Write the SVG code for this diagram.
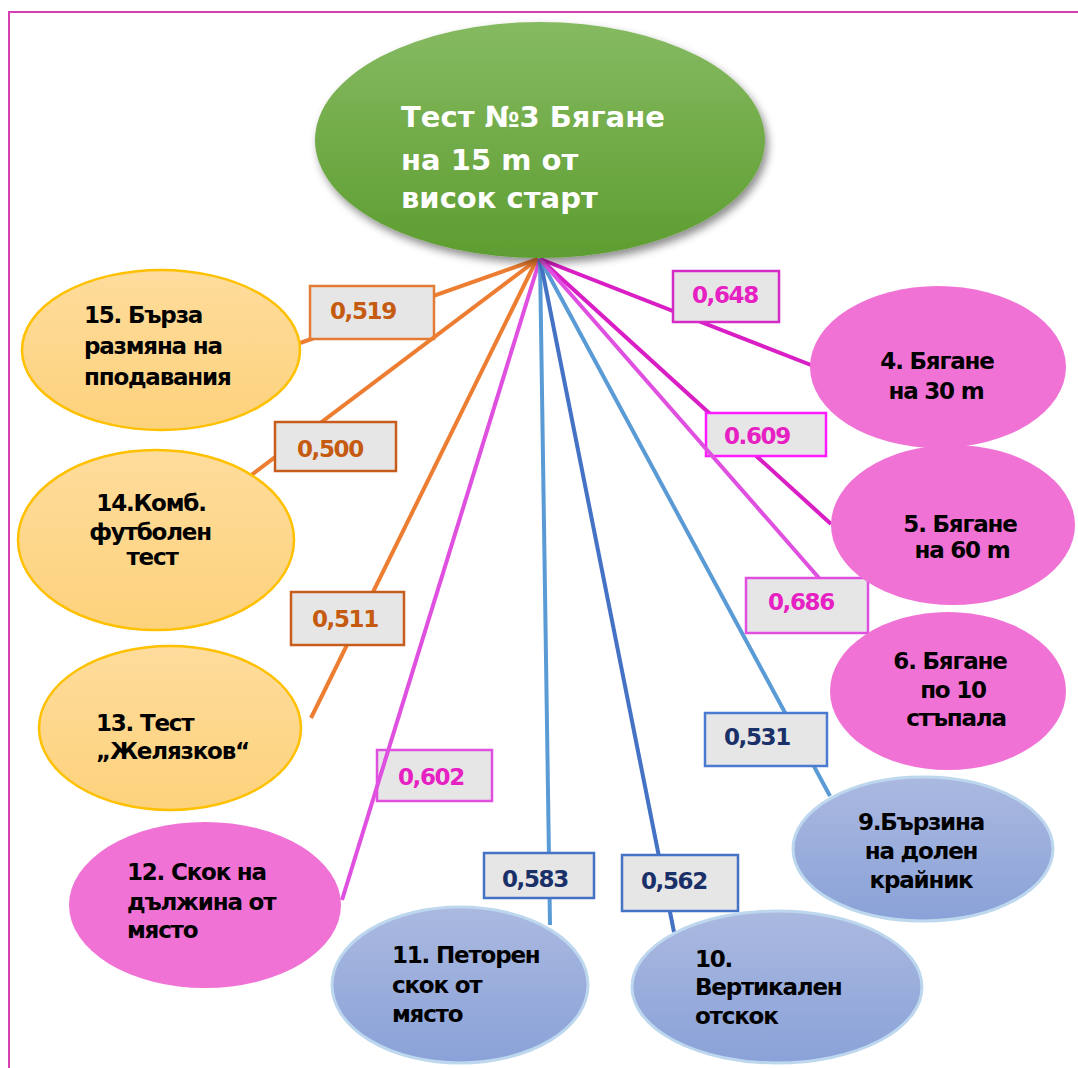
<svg xmlns="http://www.w3.org/2000/svg" width="1078" height="1068" viewBox="0 0 1078 1068">
<defs>
<linearGradient id="gGreen" x1="0" y1="0" x2="0" y2="1"><stop offset="0" stop-color="#86ba62"/><stop offset="1" stop-color="#5d9d30"/></linearGradient>
<linearGradient id="gYellow" x1="0" y1="0" x2="0" y2="1"><stop offset="0" stop-color="#fedc9c"/><stop offset="1" stop-color="#fdd27c"/></linearGradient>
<linearGradient id="gBlue" x1="0" y1="0" x2="0" y2="1"><stop offset="0" stop-color="#abb9e0"/><stop offset="1" stop-color="#8aa2d8"/></linearGradient>
<filter id="shadow" x="-10%" y="-10%" width="125%" height="130%"><feDropShadow dx="3" dy="5" stdDeviation="4" flood-color="#000" flood-opacity="0.45"/></filter>
<style>
.frame{fill:none;stroke:#d63fb2;stroke-width:2}
.ln{fill:none;stroke-width:4}
.or{stroke:#ed7d31}
.mg{stroke:#d81ec4}
.pk{stroke:#e050e0}
.lb{stroke:#5b9bd5}
.db{stroke:#4472c4}
.box{fill:#e7e6e6;stroke-width:2.5}
.lt{font-family:"DejaVu Sans",Verdana,sans-serif;font-weight:bold;font-size:23px;letter-spacing:-1.4px}
.to{fill:#c55a11}
.tm{fill:#e620c2}
.tb{fill:#1a3068}
.yel{fill:url(#gYellow);stroke:#ffc000;stroke-width:2.5}
.pnk{fill:#f072d5}
.blu{fill:url(#gBlue);stroke:#bdd7ee;stroke-width:3}
.nt{font-family:"DejaVu Sans",Verdana,sans-serif;font-weight:bold;font-size:23px;letter-spacing:-1.2px;fill:#000}
.title{font-family:"DejaVu Sans",Verdana,sans-serif;font-weight:bold;font-size:29px;fill:#fff}
</style>
</defs>
<rect width="1078" height="1068" fill="#fff"/>
<path class="frame" d="M9,1070 L9,12 L1080,12"/>
<g id="connectors">
<g id="e15"><line class="ln or" x1="538" y1="259" x2="300" y2="343"/><rect class="box" x="310" y="286" width="124" height="53" stroke="#e37b34"/><text class="lt to" x="330" y="319">0,519</text></g>
<g id="e14"><line class="ln or" x1="538" y1="259" x2="250" y2="476"/><rect class="box" x="275" y="422" width="121" height="49" stroke="#c65d1c"/><text class="lt to" x="297" y="457">0,500</text></g>
<g id="e13"><line class="ln or" x1="537" y1="259" x2="311" y2="718"/><rect class="box" x="291" y="592" width="113" height="53" stroke="#c65d1c"/><text class="lt to" x="312" y="627">0,511</text></g>
<g id="e12"><rect class="box" x="377" y="750" width="115" height="51" stroke="#e050e0"/><text class="lt tm" x="398" y="785">0,602</text><line class="ln pk" x1="540" y1="259" x2="342" y2="900"/></g>
<g id="e11"><line class="ln lb" x1="540" y1="259" x2="550" y2="925"/><rect class="box" x="484" y="853" width="110" height="45" stroke="#4472c4"/><text class="lt tb" x="502" y="887">0,583</text></g>
<g id="e10"><line class="ln db" x1="540" y1="259" x2="674" y2="932"/><rect class="box" x="622" y="855" width="116" height="56" stroke="#4472c4"/><text class="lt tb" x="641" y="889">0,562</text></g>
<g id="e9"><line class="ln lb" x1="540" y1="259" x2="830" y2="796"/><rect class="box" x="705" y="713" width="122" height="53" stroke="#4a7bd0"/><text class="lt tb" x="724" y="745">0,531</text></g>
<g id="e4"><line class="ln mg" x1="540" y1="259" x2="811" y2="365"/><rect class="box" x="673" y="271" width="106" height="51" stroke="#d42ac6"/><text class="lt tm" x="692" y="303">0,648</text></g>
<g id="e5"><line class="ln mg" x1="540" y1="259" x2="831" y2="524"/><rect class="box" x="706" y="413" width="120" height="43" stroke="#ff1aff"/><text class="lt tm" x="724" y="444">0.609</text></g>
<g id="e6"><line class="ln pk" x1="540" y1="259" x2="819" y2="578"/><rect class="box" x="746" y="578" width="122" height="55" stroke="#e050e0"/><text class="lt tm" x="768" y="610">0,686</text></g>
</g>
<g id="n3"><ellipse cx="540" cy="140" rx="225" ry="118" fill="url(#gGreen)" filter="url(#shadow)"/><text class="title" x="401" y="127">Тест №3 Бягане</text><text class="title" x="401" y="170">на 15 m от</text><text class="title" x="401" y="208">висок старт</text></g>
<g id="n15"><ellipse class="yel" cx="161" cy="350" rx="139" ry="80"/><text class="nt" x="84" y="323">15. Бърза</text><text class="nt" x="84" y="354">размяна на</text><text class="nt" x="84" y="385">пподавания</text></g>
<g id="n14"><ellipse class="yel" cx="156" cy="540" rx="138" ry="90"/><g text-anchor="middle"><text class="nt" x="151" y="511">14.Комб.</text><text class="nt" x="150" y="540">футболен</text><text class="nt" x="152" y="565">тест</text></g></g>
<g id="n13"><ellipse class="yel" cx="170" cy="728" rx="131" ry="82"/><text class="nt" x="96" y="731">13. Тест</text><text class="nt" x="96" y="759">„Желязков“</text></g>
<g id="n12"><ellipse class="pnk" cx="205" cy="905" rx="136" ry="83"/><text class="nt" x="127" y="880">12. Скок на</text><text class="nt" x="127" y="910">дължина от</text><text class="nt" x="127" y="938">място</text></g>
<g id="n11"><ellipse class="blu" cx="460" cy="985" rx="128" ry="78"/><text class="nt" x="392" y="963">11. Петорен</text><text class="nt" x="392" y="993">скок от</text><text class="nt" x="392" y="1022">място</text></g>
<g id="n10"><ellipse class="blu" cx="777" cy="987" rx="145" ry="76"/><text class="nt" x="695" y="967">10.</text><text class="nt" x="695" y="995">Вертикален</text><text class="nt" x="695" y="1024">отскок</text></g>
<g id="n9"><ellipse class="blu" cx="923" cy="849" rx="130" ry="72"/><g text-anchor="middle"><text class="nt" x="921" y="830">9.Бързина</text><text class="nt" x="921" y="859">на долен</text><text class="nt" x="921" y="888">крайник</text></g></g>
<g id="n6"><ellipse class="pnk" cx="948" cy="691" rx="118" ry="79"/><g text-anchor="middle"><text class="nt" x="950" y="669">6. Бягане</text><text class="nt" x="953" y="698">по 10</text><text class="nt" x="956" y="726">стъпала</text></g></g>
<g id="n5"><ellipse class="pnk" cx="953" cy="525" rx="122" ry="80"/><g text-anchor="middle"><text class="nt" x="960" y="532">5. Бягане</text><text class="nt" x="962" y="558">на 60 m</text></g></g>
<g id="n4"><ellipse class="pnk" cx="938" cy="367" rx="128" ry="81"/><g text-anchor="middle"><text class="nt" x="937" y="369">4. Бягане</text><text class="nt" x="936" y="399">на 30 m</text></g></g>
</svg>
